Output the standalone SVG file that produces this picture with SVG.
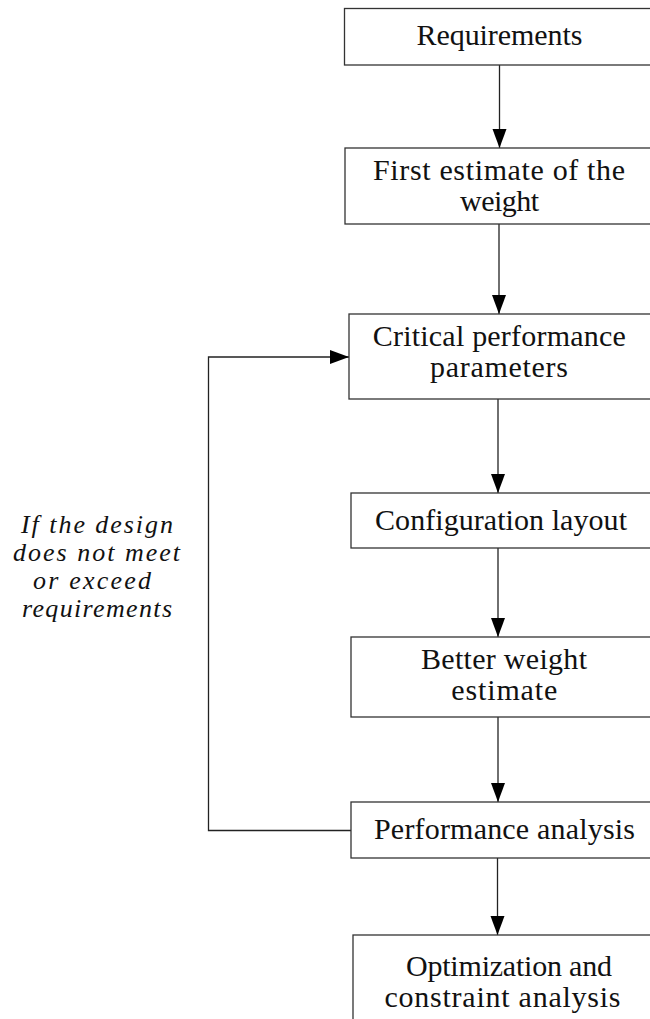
<svg xmlns="http://www.w3.org/2000/svg" width="650" height="1019" viewBox="0 0 650 1019">
  <style>
    .box { fill: #ffffff; stroke: #333333; stroke-width: 1.3; }
    .lbl { font-family: "Liberation Serif", "Times New Roman", serif; font-size: 30px; fill: #111111; text-anchor: middle; }
    .note { font-family: "Liberation Serif", "Times New Roman", serif; font-size: 26px; font-style: italic; fill: #111111; text-anchor: middle; }
    .wire { fill: none; stroke: #222222; stroke-width: 1.3; }
  </style>
  <defs>
    <marker id="head" markerUnits="userSpaceOnUse" markerWidth="20" markerHeight="16" refX="19" refY="7" orient="auto">
      <polygon points="0,0 19,7 0,14" fill="#000000"/>
    </marker>
  </defs>
  <rect width="650" height="1019" fill="#ffffff"/>

  <!-- connectors -->
  <g id="connectors">
    <line class="wire" x1="499.5" y1="65" x2="499.5" y2="148" marker-end="url(#head)"/>
    <line class="wire" x1="499" y1="224" x2="499" y2="314" marker-end="url(#head)"/>
    <line class="wire" x1="498" y1="399" x2="498" y2="493" marker-end="url(#head)"/>
    <line class="wire" x1="498" y1="548" x2="498" y2="637" marker-end="url(#head)"/>
    <line class="wire" x1="498" y1="717" x2="498" y2="802" marker-end="url(#head)"/>
    <line class="wire" x1="497.5" y1="858" x2="497.5" y2="935" marker-end="url(#head)"/>
    <!-- feedback loop back to the critical parameters -->
    <polyline class="wire" points="351,830.5 208.5,830.5 208.5,357 349,357" marker-end="url(#head)"/>
  </g>

  <g id="requirements">
    <rect class="box" x="344.5" y="8.5" width="320" height="56.5"/>
    <text class="lbl" x="499.5" y="45" textLength="166" lengthAdjust="spacing">Requirements</text>
  </g>

  <g id="first-estimate">
    <rect class="box" x="345" y="148" width="320" height="76"/>
    <text class="lbl" x="499" y="179.5" textLength="252" lengthAdjust="spacing">First estimate of the</text>
    <text class="lbl" x="499.5" y="210.5" textLength="79" lengthAdjust="spacing">weight</text>
  </g>

  <g id="critical-parameters">
    <rect class="box" x="349" y="314" width="320" height="85"/>
    <text class="lbl" x="499.3" y="346" textLength="253" lengthAdjust="spacing">Critical performance</text>
    <text class="lbl" x="499" y="377" textLength="138" lengthAdjust="spacing">parameters</text>
  </g>

  <g id="configuration-layout">
    <rect class="box" x="351" y="493" width="320" height="55"/>
    <text class="lbl" x="501" y="530" textLength="252" lengthAdjust="spacing">Configuration layout</text>
  </g>

  <g id="better-weight">
    <rect class="box" x="351" y="637" width="320" height="80"/>
    <text class="lbl" x="504" y="669" textLength="166" lengthAdjust="spacing">Better weight</text>
    <text class="lbl" x="504.3" y="700" textLength="106" lengthAdjust="spacing">estimate</text>
  </g>

  <g id="performance-analysis">
    <rect class="box" x="351" y="802" width="320" height="56"/>
    <text class="lbl" x="504.5" y="839" textLength="261" lengthAdjust="spacing">Performance analysis</text>
  </g>

  <g id="optimization">
    <rect class="box" x="353" y="935" width="320" height="100"/>
    <text class="lbl" x="509" y="976" textLength="206" lengthAdjust="spacing">Optimization and</text>
    <text class="lbl" x="502.5" y="1007" textLength="236" lengthAdjust="spacing">constraint analysis</text>
  </g>

  <g id="loop-note">
    <text class="note" x="97" y="533" textLength="152" lengthAdjust="spacing">If the design</text>
    <text class="note" x="96.5" y="561" textLength="167" lengthAdjust="spacing">does not meet</text>
    <text class="note" x="92" y="589" textLength="118" lengthAdjust="spacing">or exceed</text>
    <text class="note" x="97" y="617" textLength="150" lengthAdjust="spacing">requirements</text>
  </g>
</svg>
